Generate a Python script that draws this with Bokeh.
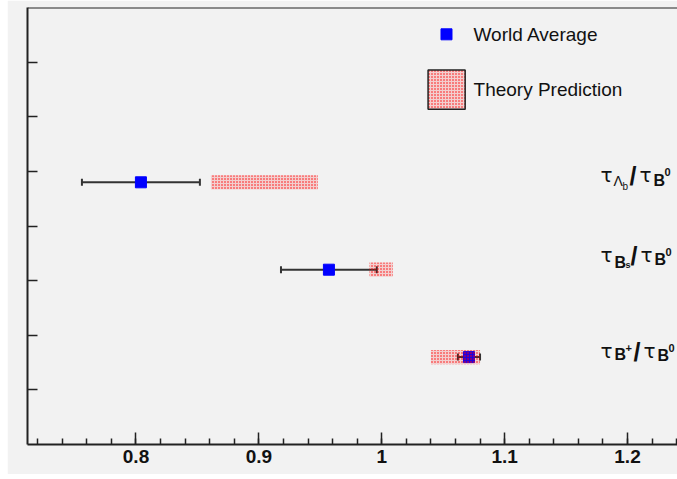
from bokeh.plotting import figure
from bokeh.models import (ColumnDataSource, Whisker, TeeHead, SingleIntervalTicker,
                          FixedTicker, CustomJSTickFormatter, Span, Spacer)
from bokeh.layouts import row
from bokeh.core.properties import value
from bokeh.embed import file_html
from bokeh.resources import INLINE

# ---------------- data ----------------
ratio_names = ["tau_Lambda_b/tau_B0", "tau_Bs/tau_B0", "tau_B+/tau_B0"]
row_y = [4.8, 3.2, 1.6]
world_avg = [0.804, 0.957, 1.071]
world_err = [0.048, 0.039, 0.009]
theory_lo = [0.861, 0.990, 1.040]
theory_hi = [0.948, 1.009, 1.080]
theory_half_height = 0.13

x_ticks_interval = 0.1
y_ticks = [1, 2, 3, 4, 5, 6, 7]

legend_labels = ["World Average", "Theory Prediction"]
legend_marker_xy = [1.0527, 7.509]
legend_box = [1.0377, 1.0679, 6.136, 6.855]   # left, right, bottom, top
legend_text_x = 1.0747
legend_text_y = [7.509, 6.50]

# row labels: anchor x, baselines
label_x = 1.178
label_y = [4.93, 3.47, 1.72]
# (text, dx px, dy px, size px, bold, font)
TAU_FONT = "DejaVu Sans"
SANS = "Liberation Sans"
label_heads = [
    [("τ", 0, 0, 20, False, TAU_FONT), ("Λ", 13, 6, 14, False, SANS), ("b", 22, 11, 10, False, SANS)],
    [("τ", 0, 0, 20, False, TAU_FONT), ("B", 14, 8, 16, True, SANS), ("s", 25, 10, 9, True, SANS)],
    [("τ", 0, 0, 20, False, TAU_FONT), ("B", 14, 4, 16, True, SANS), ("+", 25, -3, 11, True, SANS)],
]
label_tail_start = [29, 30, 33]
label_tail = [("/", 0, 1, 25, True, SANS), ("τ", 10, 0, 20, False, TAU_FONT),
              ("B", 24, 5, 16, True, SANS), ("0", 35, -3, 11, True, SANS)]

# ---------------- figure ----------------
BG = "#f2f2f2"
p = figure(width=670, height=474, x_range=(0.7117, 1.2407), y_range=(0, 8),
           output_backend="svg", toolbar_location=None,
           min_border_left=20, min_border_right=0, min_border_top=7, min_border_bottom=30,
           background_fill_color=BG, border_fill_color=BG, outline_line_color=None)
p.grid.visible = False

xa = p.xaxis[0]
xa.ticker = SingleIntervalTicker(interval=x_ticks_interval, num_minor_ticks=5)
xa.formatter = CustomJSTickFormatter(code="return String(Number(tick.toFixed(2)));")
xa.major_tick_in = 12
xa.major_tick_out = 0
xa.minor_tick_in = 6
xa.minor_tick_out = 0
xa.axis_line_width = 2
xa.axis_line_color = "#222222"
xa.major_tick_line_color = "#222222"
xa.minor_tick_line_color = "#222222"
xa.major_tick_line_width = 1.5
xa.minor_tick_line_width = 1.5
xa.major_label_text_font = "Liberation Sans"
xa.major_label_text_font_style = "bold"
xa.major_label_text_font_size = "19px"
xa.major_label_text_color = "#111111"
xa.major_label_standoff = 5

ya = p.yaxis[0]
ya.ticker = FixedTicker(ticks=y_ticks, minor_ticks=[])
ya.formatter = CustomJSTickFormatter(code="return '';")
ya.major_label_standoff = 0
ya.major_tick_in = 10
ya.major_tick_out = 0
ya.minor_tick_in = 0
ya.minor_tick_out = 0
ya.axis_line_width = 2
ya.axis_line_color = "#222222"
ya.major_tick_line_color = "#222222"
ya.major_tick_line_width = 1.5

p.add_layout(Span(location=8, dimension="width", line_color="#222222", line_width=2))

src = ColumnDataSource(dict(
    y=row_y,
    x=world_avg,
    lo=[a - e for a, e in zip(world_avg, world_err)],
    hi=[a + e for a, e in zip(world_avg, world_err)],
    tlo=theory_lo,
    thi=theory_hi,
    tbot=[y - theory_half_height for y in row_y],
    ttop=[y + theory_half_height for y in row_y],
))

w = Whisker(base="y", lower="lo", upper="hi", dimension="width", source=src,
            line_color="#333333", line_width=2,
            lower_head=TeeHead(size=7, line_color="#333333", line_width=2),
            upper_head=TeeHead(size=7, line_color="#333333", line_width=2))
p.add_layout(w)

p.scatter("x", "y", source=src, marker="square", size=11,
          fill_color="blue", line_color="blue")

HATCH = dict(fill_color="red", fill_alpha=0.14,
             hatch_pattern="dot", hatch_color="red", hatch_scale=3, hatch_weight=1.7)
p.quad(left="tlo", right="thi", bottom="tbot", top="ttop", source=src,
       line_color=None, **HATCH)

# legend
p.scatter(x=[legend_marker_xy[0]], y=[legend_marker_xy[1]], marker="square", size=11,
          fill_color="blue", line_color="blue")
p.quad(left=[legend_box[0]], right=[legend_box[1]], bottom=[legend_box[2]], top=[legend_box[3]],
       line_color="#222222", line_width=1.5, **HATCH)
p.text(x=[legend_text_x] * 2, y=legend_text_y, text=legend_labels,
       text_font=value("Liberation Sans"), text_font_size="19px",
       text_baseline="middle", text_align="left", text_color="#111111")

# row labels
for i, head in enumerate(label_heads):
    t0 = label_tail_start[i]
    parts = list(head) + [(t, dx + t0, dy, s, b, f) for (t, dx, dy, s, b, f) in label_tail]
    for (t, dx, dy, s, b, f) in parts:
        p.text(x=[label_x], y=[label_y[i]], text=[t], x_offset=dx, y_offset=dy,
               text_font=value(f), text_font_size=f"{s}px",
               text_font_style="bold" if b else "normal",
               text_baseline="alphabetic", text_align="left", text_color="#111111")

layout = row(Spacer(width=7, height=474), p)
open("out.html", "w").write(file_html(layout, INLINE))
